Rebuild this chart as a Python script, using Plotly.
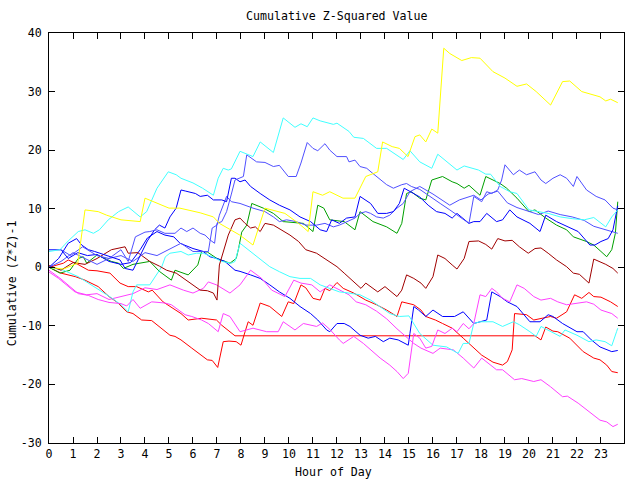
import plotly.graph_objects as go

# ---------------- data (hour of day, cumulative value) ----------------
yellow_h = [0, 0.6, 1.2, 1.5, 2.05, 2.4, 3.0, 3.8, 4.0, 4.5, 5.0, 5.45, 6.3, 6.85, 7.1, 7.95, 8.5, 9.0, 9.83, 10.4, 10.8, 11.0, 11.4, 11.7, 12.25, 12.75, 13.2, 13.7, 13.9, 14.3, 14.6, 14.96, 15.25, 15.45, 15.7, 15.95, 16.2, 16.45, 16.7, 17.2, 17.6, 17.96, 18.5, 19.0, 19.5, 19.9, 20.3, 20.9, 21.4, 21.7, 22.2, 22.96, 23.2, 23.4, 23.7]
yellow_v = [0, -0.3, 0.7, 9.8, 9.5, 8.9, 8.1, 7.8, 11.8, 10.9, 10.1, 10.1, 9.3, 8.6, 7.5, 5.5, 3.8, 10.1, 9.2, 7.5, 6.1, 12.9, 12.3, 12.9, 11.8, 11.8, 15.5, 16.3, 21.4, 20.6, 20.3, 18.9, 22.3, 22.6, 21.4, 23.6, 22.9, 37.4, 36.5, 35.3, 35.8, 35.7, 33.4, 32.3, 30.9, 31.3, 30.0, 27.7, 31.7, 31.8, 30.0, 29.1, 28.4, 28.7, 28.1]

cyan_a_h = [0, 0.46, 0.8, 1.22, 1.5, 1.85, 2.1, 2.47, 2.9, 3.3, 3.8, 4.07, 4.5, 4.97, 5.3, 5.5, 6.0, 6.4, 6.85, 7.05, 7.26, 7.47, 7.6, 7.96, 8.5, 8.8, 9.35, 9.76, 10.25, 10.5, 10.76, 11.0, 11.3, 11.85, 12.0, 12.5, 12.7, 13.1, 13.65, 14.07, 14.76, 15.04, 15.45, 15.95, 16.2, 16.6, 17.0, 17.3, 17.9, 18.2, 18.4, 18.8, 19.2, 19.5, 20.0, 20.8, 21.3, 21.8, 22.3, 22.7, 23.2, 23.45, 23.7]
cyan_a_v = [2.7, 3.0, 4.5, 6.1, 6.4, 5.8, 6.4, 8.1, 9.5, 10.3, 8.6, 9.5, 13.5, 16.3, 15.8, 15.2, 14.4, 13.5, 12.3, 15.2, 16.9, 16.6, 16.8, 19.8, 18.9, 21.4, 19.6, 25.5, 23.9, 24.5, 24.0, 25.5, 25.0, 24.4, 24.6, 23.2, 22.2, 22.0, 20.3, 20.3, 18.4, 19.9, 18.0, 16.9, 19.3, 18.0, 16.6, 17.3, 16.6, 15.9, 15.9, 13.8, 12.9, 12.6, 9.8, 9.2, 8.6, 8.3, 8.1, 8.5, 6.9, 8.6, 9.8]

cyan_b_h = [0, 0.6, 1.22, 1.78, 2.26, 2.6, 3.0, 3.3, 3.5, 3.65, 4.2, 4.7, 4.85, 5.04, 5.5, 5.8, 6.15, 6.43, 6.8, 7.2, 7.6, 7.75, 7.96, 8.4, 8.8, 9.2, 9.6, 10.04, 10.46, 10.9, 11.3, 11.7, 12.1, 12.5, 12.96, 13.4, 13.8, 14.2, 14.6, 15.0, 15.45, 16.0, 16.57, 17.05, 17.26, 17.5, 17.7, 17.96, 18.5, 18.9, 19.35, 19.6, 20.04, 20.3, 20.5, 20.9, 21.3, 21.5, 22.0, 22.5, 22.8, 23.17, 23.45, 23.65, 23.7]
cyan_b_v = [0, -0.5, -1.6, -3.0, -4.2, -5.2, -6.4, -7.6, -4.2, -3.0, -3.0, 0.1, 1.8, 2.4, 2.7, 2.1, 2.4, 2.4, 1.8, 1.0, 0.7, 1.0, 4.1, 2.7, 1.5, 0.1, -0.75, -1.6, -1.9, -1.9, -3.0, -3.6, -4.2, -4.4, -4.7, -5.6, -6.7, -7.9, -8.4, -8.3, -11.3, -13.3, -13.6, -14.7, -13.0, -13.0, -9.6, -9.3, -9.3, -10.1, -9.3, -9.8, -11.0, -11.8, -10.1, -11.0, -11.8, -10.7, -11.6, -12.7, -12.4, -12.7, -13.4, -11.0, -10.4]

green_h = [0, 0.46, 0.875, 1.22, 1.43, 1.57, 2.0, 2.6, 2.9, 3.1, 3.5, 4.2, 4.6, 5.1, 5.25, 5.8, 6.2, 6.36, 6.6, 7.0, 7.54, 7.8, 7.9, 8.03, 8.24, 8.45, 8.93, 9.35, 9.76, 10.6, 11.0, 11.2, 11.45, 11.7, 12.3, 12.75, 12.96, 13.5, 14.07, 14.5, 14.7, 14.9, 15.1, 15.45, 15.7, 15.95, 16.4, 16.8, 17.0, 17.3, 17.5, 17.96, 18.2, 18.8, 19.07, 19.5, 20.0, 20.25, 20.7, 21.15, 21.57, 21.85, 22.4, 22.7, 23.0, 23.24, 23.45, 23.6, 23.7]
green_v = [0, -1.0, -0.5, 1.5, 1.8, 0.7, 2.1, 1.0, 0.7, -0.2, 0.5, 1.0, -0.7, -2.2, -0.5, -1.3, 0.4, 2.7, 2.6, 1.5, 0.7, 1.5, 3.2, 6.0, 7.2, 10.9, 10.1, 9.2, 7.8, 7.5, 6.1, 10.6, 10.1, 8.1, 7.8, 6.4, 9.5, 7.8, 6.9, 5.8, 7.5, 12.6, 12.9, 11.8, 11.5, 14.9, 15.5, 14.6, 14.3, 13.5, 14.0, 12.3, 15.5, 14.3, 13.5, 11.8, 9.5, 9.8, 8.4, 7.2, 6.4, 5.2, 4.4, 3.8, 2.7, 1.8, 3.0, 5.8, 11.2]

darkred_h = [0, 0.5, 1.0, 1.5, 2.0, 2.6, 3.17, 3.3, 3.7, 4.2, 4.6, 4.9, 5.3, 5.6, 6.0, 6.3, 6.6, 6.85, 7.0, 7.1, 7.47, 7.75, 7.96, 8.17, 8.4, 8.6, 8.8, 9.0, 9.35, 9.7, 10.04, 10.4, 10.7, 11.15, 11.57, 12.0, 12.3, 12.75, 13.0, 13.2, 13.5, 13.7, 14.0, 14.35, 14.5, 14.7, 14.9, 15.2, 15.5, 15.7, 16.0, 16.2, 16.5, 16.8, 17.0, 17.3, 17.5, 17.9, 18.2, 18.45, 18.7, 19.0, 19.3, 19.6, 19.97, 20.25, 20.5, 20.8, 21.15, 21.57, 21.85, 22.1, 22.5, 22.7, 22.96, 23.2, 23.5, 23.7]
darkred_v = [0.3, -0.5, 0.8, 0.5, 1.5, 3.0, 3.5, 2.4, 2.5, 1.0, 0.2, -0.5, -1.0, -1.9, -3.0, -3.9, -4.0, -4.4, -5.6, 0.4, 5.5, 8.1, 8.4, 7.5, 6.7, 6.9, 6.1, 7.5, 7.2, 6.4, 5.5, 4.4, 3.0, 2.4, 1.25, 0.1, -1.0, -2.7, -3.6, -2.7, -3.6, -4.2, -3.3, -4.4, -5.0, -3.9, -1.3, -1.9, -2.7, -3.6, -1.6, 2.1, 1.5, 0.4, -0.3, 1.5, 4.4, 4.5, 3.9, 3.1, 4.9, 4.5, 4.6, 3.5, 2.4, 3.2, 3.3, 2.4, 1.25, 0.1, -1.0, -1.2, -2.7, 1.4, 1.0, 0.5, -0.2, -1.0]

red1_h = [0, 0.6, 0.8, 1.2, 1.64, 2.0, 2.54, 2.96, 3.3, 3.65, 4.14, 4.3, 4.75, 5.5, 5.8, 6.36, 6.98, 7.2, 7.75, 20.25, 20.5, 20.7, 21.0, 21.2, 21.7, 22.26, 22.7, 22.96, 23.24, 23.45, 23.7]
red1_v = [0, 0.7, 1.25, 0.5, -0.5, -0.6, -1.0, -2.7, -3.3, -3.3, -4.2, -3.9, -5.9, -7.9, -9.0, -8.7, -9.0, -9.9, -11.7, -11.7, -12.4, -10.2, -10.9, -11.0, -12.1, -14.4, -15.5, -15.8, -16.7, -17.8, -18.0]

red2_h = [0, 0.5, 1.1, 1.5, 2.05, 2.5, 2.85, 3.24, 3.5, 3.86, 4.28, 4.7, 5.04, 5.25, 5.5, 5.95, 6.36, 6.6, 6.8, 7.03, 7.26, 7.5, 7.8, 8.0, 8.17, 8.3, 8.5, 8.8, 9.2, 9.7, 9.97, 10.2, 10.5, 10.7, 11.0, 11.3, 11.5, 11.7, 12.0, 12.26, 12.7, 13.2, 13.65, 14.07, 14.5, 14.7, 15.2, 15.5, 15.7, 16.1, 16.4, 16.8, 17.26, 17.68, 18.03, 18.5, 18.9, 19.1, 19.3, 19.4, 19.9, 20.2, 20.6, 20.9, 21.15, 21.57, 21.9, 22.2, 22.5, 22.7, 23.0, 23.4, 23.7]
red2_v = [0, -1.0, -1.6, -2.2, -3.3, -5.0, -6.0, -7.6, -7.9, -9.0, -9.1, -10.4, -11.6, -11.8, -12.4, -13.8, -15.0, -15.8, -15.9, -17.1, -12.7, -12.6, -12.7, -13.3, -11.0, -9.3, -9.9, -6.1, -6.7, -8.4, -5.9, -6.2, -3.0, -3.5, -5.3, -5.6, -3.6, -4.0, -2.6, -3.6, -4.4, -5.6, -6.4, -7.3, -8.4, -5.9, -6.4, -7.3, -8.4, -9.0, -9.6, -10.4, -12.1, -13.6, -15.0, -16.2, -16.7, -16.1, -14.1, -7.9, -8.1, -9.0, -8.7, -8.4, -8.7, -7.6, -4.7, -5.3, -4.3, -5.0, -5.1, -5.9, -6.7]

mag1_h = [0, 0.4, 1.08, 1.57, 2.0, 2.5, 3.0, 3.5, 4.0, 4.5, 5.04, 5.6, 6.0, 6.43, 6.64, 6.98, 7.54, 7.96, 8.4, 8.86, 9.28, 9.83, 10.2, 10.5, 10.95, 11.3, 11.7, 12.1, 12.5, 12.8, 13.2, 13.65, 14.07, 14.5, 15.2, 15.5, 16.0, 16.3, 16.85, 17.26, 17.7, 18.03, 18.3, 18.65, 18.9, 19.4, 19.7, 20.2, 20.5, 20.9, 21.4, 21.6, 22.05, 22.7, 22.96, 23.24, 23.5, 23.7]
mag1_v = [-0.8, -1.9, -4.2, -4.7, -4.5, -5.5, -5.0, -4.5, -3.5, -3.8, -3.0, -3.9, -4.4, -3.6, -2.5, -3.0, -4.4, -3.0, -0.5, -1.9, -3.9, -5.0, -2.2, -2.7, -3.0, -4.2, -3.0, -3.9, -4.7, -5.9, -6.4, -7.5, -8.8, -10.5, -13.0, -13.8, -14.7, -13.8, -14.1, -15.5, -17.2, -15.5, -16.4, -17.5, -17.5, -19.2, -19.0, -19.5, -19.2, -20.4, -22.1, -22.0, -23.2, -25.2, -26.1, -26.4, -27.2, -26.8]

mag2_h = [0, 0.5, 1.22, 1.64, 2.05, 2.5, 3.0, 3.24, 3.5, 3.8, 4.28, 4.83, 5.1, 5.4, 5.67, 5.95, 6.36, 6.64, 7.05, 7.26, 7.54, 7.96, 8.5, 9.07, 9.55, 9.76, 10.25, 10.6, 11.15, 11.4, 11.7, 12.1, 12.26, 12.7, 13.1, 13.8, 14.2, 14.5, 14.76, 14.97, 15.2, 15.45, 15.7, 15.95, 16.2, 16.5, 16.8, 17.0, 17.26, 17.5, 17.7, 17.96, 18.2, 18.45, 18.65, 18.9, 19.2, 19.5, 19.8, 20.2, 20.5, 20.9, 21.2, 21.57, 22.0, 22.4, 22.7, 23.0, 23.45, 23.7]
mag2_v = [-0.5, -2.0, -4.5, -4.8, -5.5, -6.0, -6.2, -6.6, -5.5, -7.0, -5.9, -6.1, -6.4, -7.3, -8.1, -8.4, -9.0, -9.6, -11.0, -7.9, -8.4, -11.0, -10.4, -11.0, -11.0, -9.3, -10.7, -9.6, -10.1, -9.5, -10.6, -12.4, -13.0, -11.8, -13.0, -15.5, -16.7, -17.8, -19.0, -18.1, -11.3, -12.1, -13.8, -13.5, -10.7, -11.3, -10.4, -11.0, -9.6, -10.5, -9.6, -4.7, -5.0, -3.6, -4.2, -5.3, -5.9, -3.0, -3.6, -5.0, -5.6, -5.3, -5.9, -6.4, -6.2, -5.9, -6.3, -7.3, -7.9, -8.7]

blue1_h = [0, 0.5, 0.8, 1.2, 1.6, 2.0, 2.5, 3.0, 3.4, 3.8, 4.1, 4.5, 4.83, 5.2, 5.46, 6.0, 6.43, 6.7, 7.0, 7.33, 7.75, 7.96, 8.4, 8.8, 9.2, 9.6, 10.04, 10.46, 10.9, 11.2, 11.57, 11.7, 12.0, 12.3, 12.54, 12.96, 13.3, 13.6, 13.93, 14.2, 14.55, 14.83, 14.97, 15.04, 15.2, 15.4, 15.7, 16.0, 16.4, 16.9, 17.26, 17.7, 18.24, 18.45, 18.8, 19.1, 19.5, 20.04, 20.46, 20.8, 21.0, 21.4, 22.0, 22.26, 22.6, 22.96, 23.45, 23.7]
blue1_v = [3.0, 3.0, 1.5, 2.5, 2.0, 2.2, 1.0, 0.5, 0.8, 3.0, 5.0, 6.1, 5.5, 5.2, 4.1, 3.2, 2.7, 1.8, 1.5, 1.0, -0.5, -0.7, -1.3, -1.9, -3.0, -4.2, -5.3, -6.7, -7.9, -9.0, -10.7, -11.0, -9.6, -9.6, -10.1, -11.6, -12.1, -11.8, -12.7, -12.1, -12.4, -13.0, -13.3, -11.3, -6.7, -7.3, -8.4, -7.3, -8.4, -8.4, -7.6, -9.6, -9.0, -4.2, -5.0, -5.9, -6.7, -9.3, -9.3, -8.1, -8.4, -9.6, -11.0, -11.0, -12.4, -13.6, -14.4, -14.2]

blue2_h = [0, 0.4, 0.8, 1.15, 1.36, 1.64, 1.9, 2.6, 2.96, 3.17, 3.5, 3.8, 4.1, 4.4, 4.6, 4.83, 5.04, 5.3, 5.5, 5.7, 6.1, 6.3, 6.6, 6.85, 7.2, 7.4, 7.6, 7.75, 7.96, 8.17, 8.4, 8.8, 9.2, 9.6, 10.04, 10.46, 10.9, 11.3, 11.57, 11.78, 12.1, 12.4, 12.75, 12.96, 13.4, 13.7, 14.07, 14.35, 14.6, 14.8, 15.04, 15.45, 15.8, 16.15, 16.5, 16.8, 17.0, 17.5, 17.7, 17.96, 18.24, 18.65, 18.9, 19.2, 19.5, 20.04, 20.46, 20.7, 21.15, 21.6, 22.05, 22.54, 22.75, 23.0, 23.3, 23.5, 23.7]
blue2_v = [0, 1.5, 4.1, 4.9, 3.8, 3.0, 2.7, 1.8, 1.25, -0.2, -0.5, 2.0, 4.5, 6.4, 7.2, 6.7, 8.6, 10.1, 13.2, 13.0, 12.6, 12.1, 12.3, 11.5, 11.5, 11.2, 15.2, 15.2, 14.6, 14.9, 13.8, 12.6, 11.5, 10.6, 9.8, 8.6, 7.8, 6.4, 6.1, 8.1, 7.5, 8.4, 8.6, 12.1, 10.9, 9.2, 9.2, 9.5, 10.9, 13.5, 12.9, 12.0, 10.6, 9.5, 9.2, 8.4, 9.2, 7.5, 7.8, 7.8, 9.2, 7.8, 8.1, 9.8, 8.6, 7.5, 6.1, 8.9, 7.8, 6.9, 6.1, 3.8, 3.8, 4.4, 4.9, 6.4, 10.5]

slate1_h = [0, 0.5, 0.9, 1.4, 2.0, 2.5, 3.0, 3.3, 3.6, 4.0, 4.2, 4.5, 4.83, 5.25, 5.5, 5.74, 6.0, 6.3, 6.5, 6.7, 6.9, 7.0, 7.2, 7.4, 7.6, 7.75, 8.1, 8.24, 8.65, 9.0, 9.35, 9.6, 9.97, 10.3, 10.5, 10.76, 11.0, 11.2, 11.5, 11.7, 12.0, 12.4, 12.5, 12.75, 12.96, 13.24, 13.5, 13.75, 14.07, 14.35, 14.7, 14.9, 15.1, 15.45, 15.9, 16.3, 16.7, 17.1, 17.5, 17.7, 18.03, 18.24, 18.45, 18.7, 18.86, 19.0, 19.35, 19.6, 19.9, 20.25, 20.5, 20.7, 21.0, 21.3, 21.57, 21.85, 22.0, 22.4, 22.8, 23.17, 23.5, 23.7]
slate1_v = [3.0, 3.0, 2.0, 3.5, 2.0, 1.5, 3.0, 1.0, 5.2, 6.0, 6.1, 6.4, 5.8, 5.8, 6.7, 6.1, 6.7, 5.8, 5.5, 4.7, 4.1, 7.5, 7.8, 9.5, 12.5, 14.9, 15.5, 19.2, 18.0, 17.9, 17.2, 17.4, 15.5, 15.5, 17.8, 21.3, 20.3, 19.9, 21.1, 20.0, 18.9, 18.9, 18.0, 18.3, 17.2, 16.9, 16.0, 15.2, 14.1, 13.5, 14.1, 14.3, 13.8, 13.3, 12.1, 10.9, 9.8, 8.6, 7.5, 12.1, 11.2, 12.9, 12.6, 13.2, 14.9, 17.5, 15.8, 16.6, 15.8, 16.3, 14.9, 14.3, 15.2, 15.8, 15.2, 13.8, 15.5, 13.2, 12.1, 11.5, 10.1, 9.8]

slate2_h = [0, 0.5, 1.0, 1.5, 2.0, 2.5, 3.0, 3.5, 4.0, 4.5, 5.04, 5.5, 6.0, 6.64, 6.8, 7.0, 7.1, 7.4, 7.6, 7.96, 8.5, 9.0, 9.35, 9.6, 9.9, 10.3, 10.7, 11.15, 11.5, 11.85, 12.1, 12.4, 12.75, 12.96, 13.2, 13.4, 13.65, 13.93, 14.2, 14.5, 14.76, 15.04, 15.45, 16.0, 16.7, 17.1, 17.5, 17.7, 18.0, 18.3, 18.7, 19.1, 19.5, 20.0, 20.4, 20.8, 21.3, 21.8, 22.3, 22.7, 23.1, 23.4, 23.7]
slate2_v = [0, 1.0, 2.5, 1.5, 0.5, 1.5, 2.0, 1.0, 2.5, 2.0, 3.2, 4.1, 2.7, 2.7, 6.7, 7.2, 8.9, 12.1, 11.2, 10.9, 10.1, 9.5, 8.6, 7.8, 8.1, 7.8, 7.2, 7.2, 7.5, 6.9, 7.2, 7.8, 8.4, 9.2, 9.5, 9.2, 8.6, 8.4, 8.9, 10.1, 10.9, 12.9, 13.8, 12.5, 10.6, 11.5, 12.1, 12.3, 11.5, 12.5, 13.0, 11.0, 10.2, 9.5, 9.0, 9.6, 9.0, 8.6, 8.0, 7.0, 6.5, 6.1, 5.8]

x_ticks = list(range(0, 24))
y_ticks = [-30, -20, -10, 0, 10, 20, 30, 40]

series = [
    (red1_h, red1_v, "#ff0000"),
    (red2_h, red2_v, "#ff0000"),
    (green_h, green_v, "#00a000"),
    (blue1_h, blue1_v, "#0000ff"),
    (mag1_h, mag1_v, "#ff40ff"),
    (cyan_b_h, cyan_b_v, "#40ffff"),
    (darkred_h, darkred_v, "#a00000"),
    (mag2_h, mag2_v, "#ff40ff"),
    (slate2_h, slate2_v, "#5050ff"),
    (blue2_h, blue2_v, "#0000ff"),
    (slate1_h, slate1_v, "#5050ff"),
    (cyan_a_h, cyan_a_v, "#40ffff"),
    (yellow_h, yellow_v, "#ffff00"),
]

FONT = dict(family="DejaVu Sans Mono", size=11.6, color="black")

fig = go.Figure()
for h, v, c in series:
    fig.add_trace(go.Scatter(x=h, y=v, mode="lines", line=dict(color=c, width=1),
                             hoverinfo="skip", showlegend=False))

axis_common = dict(showline=True, linecolor="black", linewidth=1, mirror="ticks",
                   ticks="inside", ticklen=6, tickwidth=1, tickcolor="black",
                   showgrid=False, zeroline=False, tickfont=FONT)

fig.update_layout(
    width=640, height=480, autosize=False,
    margin=dict(l=49, r=16, t=33, b=37, pad=0),
    paper_bgcolor="white", plot_bgcolor="white",
    xaxis=dict(range=[0, 23.96], tickmode="array", tickvals=x_ticks,
               ticktext=[str(t) for t in x_ticks], **axis_common),
    yaxis=dict(range=[-30, 40], tickmode="array", tickvals=y_ticks,
               ticktext=[str(t) for t in y_ticks], ticklabelstandoff=4, **axis_common),
    annotations=[
        dict(text="Cumulative Z-Squared Value", xref="paper", yref="paper",
             x=0.5, y=1.041, xanchor="center", yanchor="middle", showarrow=False, font=FONT),
        dict(text="Cumulative (Z*Z)-1", xref="paper", yref="paper",
             x=-0.0643, y=0.39, xanchor="center", yanchor="middle", textangle=-90,
             showarrow=False, font=FONT),
        dict(text="Hour of Day", xref="paper", yref="paper",
             x=0.494, y=-0.07, xanchor="center", yanchor="middle", showarrow=False, font=FONT),
    ],
)

fig.write_html("out.html")
